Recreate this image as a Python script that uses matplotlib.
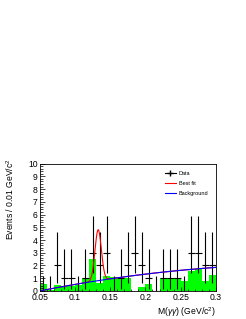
import matplotlib.pyplot as plt
import numpy as np
from matplotlib.lines import Line2D
from matplotlib.ticker import MultipleLocator, FormatStrFormatter

plt.rcParams['font.family'] = ['Liberation Sans', 'DejaVu Sans']
plt.rcParams['mathtext.fontset'] = 'custom'
plt.rcParams['mathtext.rm'] = 'Liberation Sans'
plt.rcParams['mathtext.it'] = 'Liberation Sans:italic'

# bin edges 0.05 .. 0.30, width 0.01
edges = np.round(np.arange(0.05, 0.3001, 0.01), 3)
centers = edges[:-1] + 0.005

# data counts per bin
counts = np.array([0, 0, 2, 1, 1, 0, 1, 3, 2, 3, 0, 1, 2, 3, 2, 1, 0, 1, 1, 1, 0, 3, 3, 2, 2])
# asymmetric errors
err_lo = np.array([0, 0, 1.36, 0.83, 0.83, 0, 0.83, 1.63, 1.36, 1.63, 0, 0.83, 1.36,
                   1.63, 1.36, 0.83, 0, 0.83, 0.83, 0.83, 0, 1.63, 1.63, 1.36, 1.36])
err_hi = np.array([1.14, 1.14, 2.64, 2.30, 2.30, 1.14, 2.30, 2.92, 2.64, 2.92, 1.14, 2.30, 2.64,
                   2.92, 2.64, 2.30, 1.14, 2.30, 2.30, 2.30, 1.14, 2.92, 2.92, 2.64, 2.64])

# green histogram
mc = np.array([0.53, 0.1, 0.5, 0.35, 0.4, 0.47, 1.05, 2.5, 0.6, 1.2, 1.1, 0.9, 1.05, 0.0,
               0.3, 0.53, 0.0, 1.0, 1.0, 1.0, 0.8, 1.55, 1.72, 0.78, 1.26])

# fit parameters
bkg_a, bkg_b = 10.9, -14.0      # background: a*(m-0.05) + b*(m-0.05)^2
sig_mass, sig_width, sig_amp = 0.133, 0.0045, 4.0

m = np.linspace(0.05, 0.3, 600)
bkg = bkg_a * (m - 0.05) + bkg_b * (m - 0.05) ** 2
best = bkg + sig_amp * np.exp(-0.5 * ((m - sig_mass) / sig_width) ** 2)

fig = plt.figure(figsize=(2.46, 3.19), dpi=100)
ax = fig.add_axes([0.161, 0.088, 0.717, 0.399])

ax.stairs(mc, edges, fill=True, color='#00ff00', lw=0)
ax.errorbar(centers, counts, yerr=[err_lo, err_hi], xerr=0.005, fmt='none',
            ecolor='black', elinewidth=0.8, capsize=0)
ax.plot(m, best, color='red', lw=0.8)
ax.plot(m, bkg, color='blue', lw=0.8)

ax.set_xlim(0.05, 0.3)
ax.set_ylim(0, 10)
ax.xaxis.set_major_locator(MultipleLocator(0.05))
ax.xaxis.set_minor_locator(MultipleLocator(0.01))
ax.yaxis.set_major_locator(MultipleLocator(1))
ax.yaxis.set_minor_locator(MultipleLocator(0.2))
ax.xaxis.set_major_formatter(FormatStrFormatter('%g'))
ax.tick_params(which='both', direction='in', labelsize=6.2, width=0.5, pad=1.5)
ax.tick_params(axis='y', which='major', length=3.8)
ax.tick_params(axis='y', which='minor', length=1.9)
ax.tick_params(axis='x', which='major', length=2.8)
ax.tick_params(axis='x', which='minor', length=1.4)
for s in ax.spines.values():
    s.set_linewidth(0.6)

ax.set_xlabel(r'M($\gamma\gamma$) (GeV/c$^{2}$)', fontsize=6.2, loc='right', labelpad=2.5)
ax.set_ylabel(r'Events / 0.01 GeV/c$^{2}$', fontsize=6.2, loc='top')
ax.yaxis.set_label_coords(-0.135, 1.04)

handles = [Line2D([], [], color='black', marker='+', markersize=5, lw=0.8),
           Line2D([], [], color='red', lw=0.8),
           Line2D([], [], color='blue', lw=0.8)]
ax.legend(handles, ['Data', 'Best fit', 'Background'], loc='upper left',
          bbox_to_anchor=(0.68, 0.98), frameon=False, fontsize=4,
          handlelength=2.0, handletextpad=0.6, labelspacing=0.9)

fig.savefig('out.png', dpi=100)
